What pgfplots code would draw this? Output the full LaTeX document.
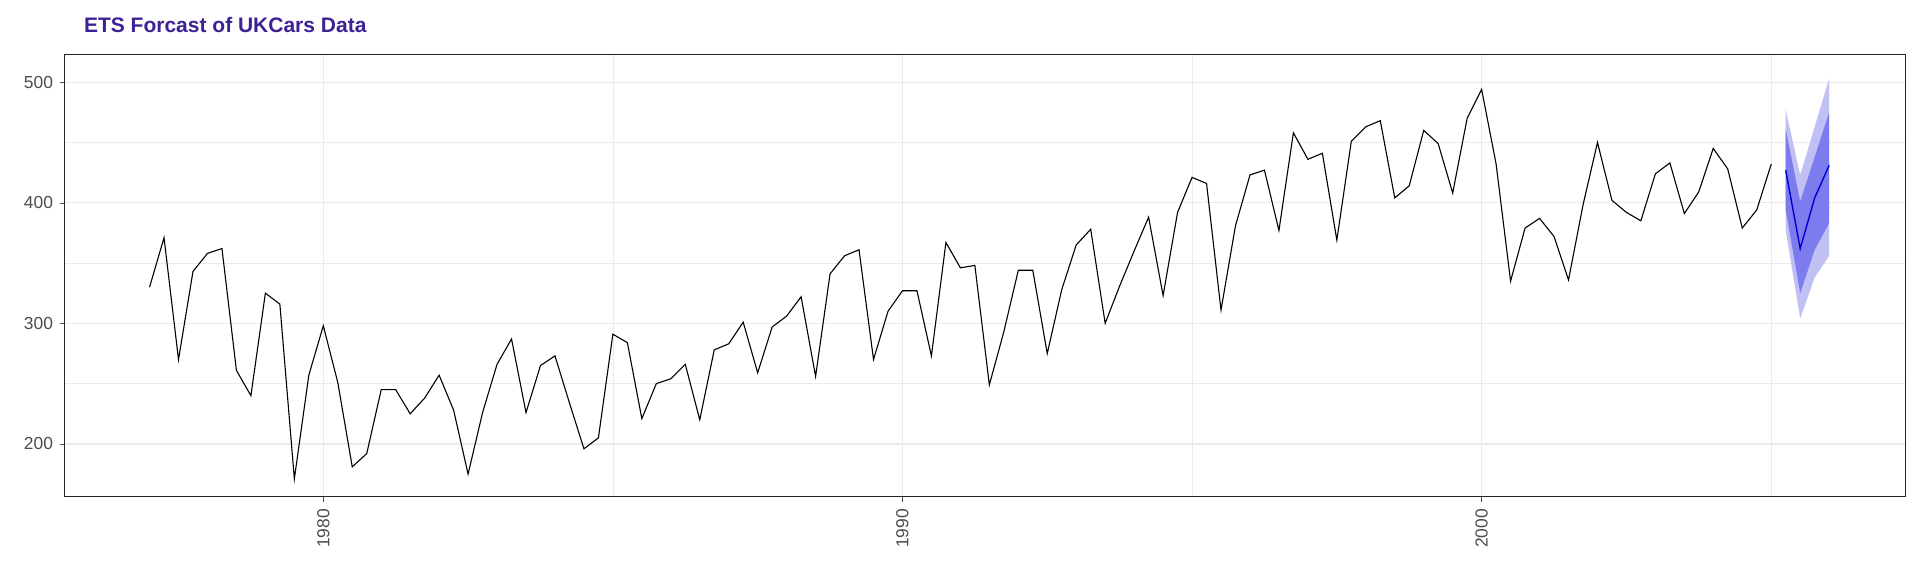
\documentclass[border=0pt]{standalone}
\usepackage{pgfplots}
\pgfplotsset{compat=1.18}
\usepackage{fontspec}
\setmainfont{Liberation Sans}
\usetikzlibrary{calc}
\definecolor{ttl}{RGB}{63,33,150}
\definecolor{grd}{RGB}{235,235,235}
\definecolor{lo}{RGB}{192,192,245}
\definecolor{hi}{RGB}{124,124,238}
\begin{document}
\begin{tikzpicture}
\begin{axis}[scale only axis, width=920pt, height=221pt,
  xmin=1975.54, xmax=2007.31, ymin=156, ymax=522.5,
  xtick={1980,1990,2000}, minor xtick={1975,1985,1995,2005},
  ytick={200,300,400,500}, minor ytick={250,350,450},
  xtick pos=left, ytick pos=left,
  grid=both, major grid style={grd, line width=0.6pt}, minor grid style={grd, line width=0.35pt},
  axis line style={black!85, line width=0.5pt},
  tick style={black!70}, tick align=outside, major tick length=2.5pt, minor tick length=0pt,
  x tick label style={rotate=90, anchor=east, font=\fontsize{8.7}{10}\selectfont, text=black!70},
  y tick label style={font=\fontsize{8.7}{10}\selectfont, text=black!70},
  /pgf/number format/assume math mode=true,
  /pgf/number format/1000 sep={},
  clip=true]
\coordinate (sw) at (rel axis cs:0,0);
\coordinate (ne) at (rel axis cs:1,1);
\addplot[fill=lo, draw=none] coordinates {(2005.25,477)(2005.5,423)(2005.75,463)(2006,503)(2006,356)(2005.75,338)(2005.5,304)(2005.25,377)} -- cycle;
\addplot[fill=hi, draw=none] coordinates {(2005.25,461)(2005.5,401)(2005.75,438)(2006,475)(2006,383)(2005.75,361)(2005.5,325)(2005.25,394)} -- cycle;
\addplot[blue!80!black, line width=0.7pt] coordinates {(2005.25,427)(2005.5,362)(2005.75,404)(2006,431)};
\addplot[black, line width=0.55pt] table[x expr=1977+\coordindex/4, y index=0] {
v
330
371
270
343
358
362
261
240
325
316
171
257
298
251
181
192
245
245
225
238
257
228
175
226
266
287
226
265
273
234
196
205
291
284
221
250
254
266
220
278
283
301
259
297
306
322
256
341
356
361
270
310
327
327
273
367
346
348
249
293
344
344
275
328
365
378
300
331
360
388
323
392
421
416
311
381
423
427
377
458
436
441
369
451
463
468
404
414
460
449
408
470
494
432
335
379
387
372
336
398
450
402
392
385
424
433
391
409
445
428
379
394
432
};
\end{axis}
\node[anchor=west, text=ttl, font=\fontsize{10.5}{12}\selectfont\bfseries] at ($(sw|-ne)+(6pt,15pt)$) {ETS Forcast of UKCars Data};
\pgfresetboundingbox
\path ($(sw)+(-32.5pt,-39.5pt)$) rectangle ($(ne)+(7.5pt,27.5pt)$);
\end{tikzpicture}
\end{document}
